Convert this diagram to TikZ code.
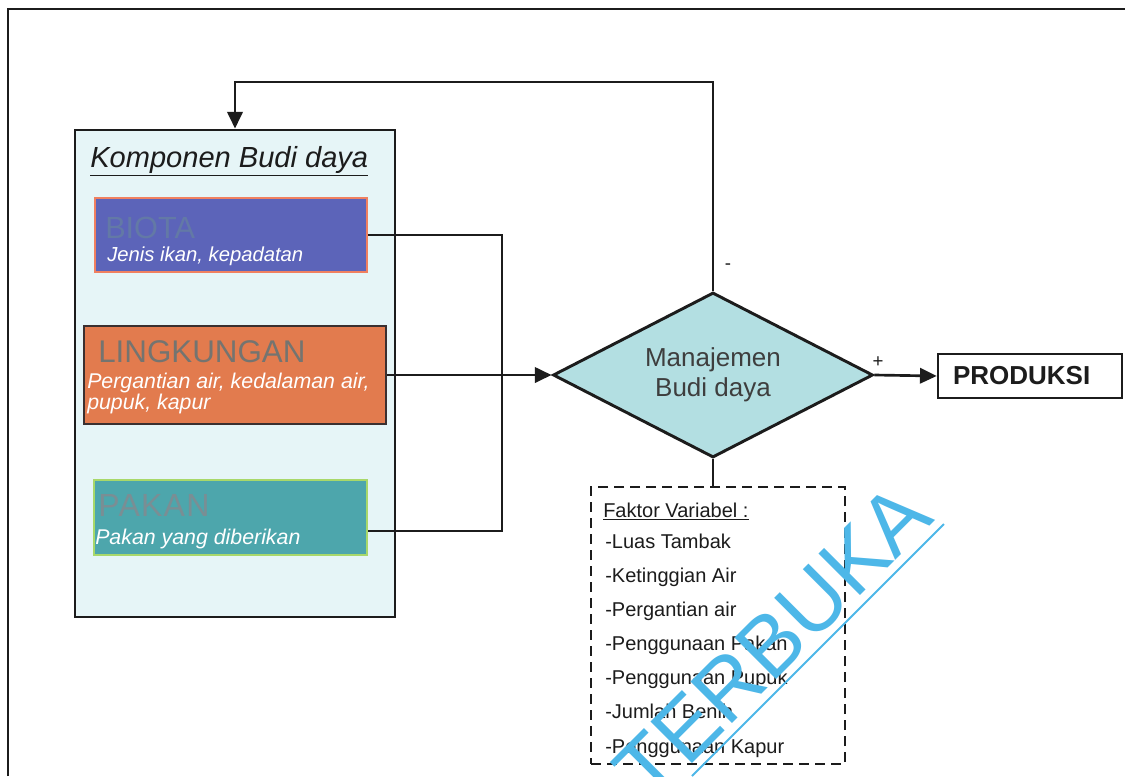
\documentclass[tikz,border=0pt]{standalone}
\usepackage{fontspec}
\setmainfont{Liberation Sans}
\usetikzlibrary{shapes.geometric,arrows.meta,calc}
\def\u{0.75pt}
\newcommand\fsz[2]{\fontsize{#1pt}{#2pt}\selectfont}
\definecolor{komp}{HTML}{E6F5F7}
\definecolor{biotaF}{HTML}{5C64B9}
\definecolor{biotaB}{HTML}{F08060}
\definecolor{biotaT}{HTML}{6379A6}
\definecolor{lingF}{HTML}{E27B4E}
\definecolor{lingB}{HTML}{3A3030}
\definecolor{lingT}{HTML}{747470}
\definecolor{pakF}{HTML}{4DA6AC}
\definecolor{pakB}{HTML}{A8D86A}
\definecolor{pakT}{HTML}{7A8E94}
\definecolor{dia}{HTML}{B3DFE2}
\definecolor{ink}{HTML}{1C1C1C}
\definecolor{wm}{HTML}{4DB7E8}
\tikzset{
  conn/.style={draw=ink, line width=2pt},
  arr/.style={conn, -{Triangle[length=12.5pt,width=11.5pt]}},
  cbox/.style={rectangle, line width=1.8pt, inner sep=0pt},
  lbl/.style={anchor=base west, inner sep=0pt},
}
\begin{document}
\begin{tikzpicture}[x=0.75pt,y=-0.75pt]
\useasboundingbox (0,0) rectangle (1125,776);
\fill[white] (0,0) rectangle (1125,776);
% outer frame
\draw[draw=ink, line width=2.2pt] (8,776) -- (8,9) -- (1125,9);

% Komponen box
\node[cbox, draw=ink, line width=2.2pt, fill=komp, minimum width=320*\u, minimum height=487*\u] (komp) at (235,373.5) {};
\node[lbl, text=ink, font=\fsz{21.8}{26}\itshape] (title) at (90,167) {\underline{Komponen Budi daya}};

% BIOTA
\node[cbox, draw=biotaB, fill=biotaF, minimum width=272*\u, minimum height=74*\u] (biota) at (231,235) {};
\node[lbl, text=biotaT, font=\fsz{23}{27}] (biotaH) at (105,238) {BIOTA};
\node[lbl, text=white, font=\fsz{15.2}{18}\itshape] (biotaS) at (107,261) {Jenis ikan, kepadatan};

% LINGKUNGAN
\node[cbox, draw=lingB, fill=lingF, minimum width=302*\u, minimum height=98*\u] (lingk) at (235,375) {};
\node[lbl, text=lingT, font=\fsz{23.5}{28}] (lingH) at (98,362) {LINGKUNGAN};
\node[lbl, text=white, font=\fsz{16}{19}\itshape] (lingS1) at (87,388) {Pergantian air, kedalaman air,};
\node[lbl, text=white, font=\fsz{16}{19}\itshape] (lingS2) at (87,409) {pupuk, kapur};

% PAKAN
\node[cbox, draw=pakB, fill=pakF, minimum width=273*\u, minimum height=75*\u] (pakan) at (230.5,517.5) {};
\node[lbl, text=pakT, font=\fsz{24}{28}\addfontfeature{LetterSpace=4}] (pakH) at (98,516) {PAKAN};
\node[lbl, text=white, font=\fsz{16}{19}\itshape] (pakS) at (95,544) {Pakan yang diberikan};

% Manajemen diamond
\node[diamond, draw=ink, line width=2.2pt, fill=dia, inner sep=0pt, aspect=1.94,
      minimum width=320*\u, minimum height=165*\u, text=ink!85, align=center,
      font=\fsz{19.5}{22.5}] (mgmt) at (713,375) {Manajemen\\Budi daya};

% PRODUKSI
\node[rectangle, draw=ink, line width=2pt, minimum width=184*\u, minimum height=44*\u,
      inner xsep=15*\u, text width=154*\u, align=left, font=\fsz{19.5}{22}\bfseries, text=ink] (prod) at (1030,376) {PRODUKSI};

% Faktor box
\node[rectangle, draw=ink, line width=2.2pt, dash pattern=on 7.5pt off 4.5pt,
      minimum width=254*\u, minimum height=277*\u] (faktor) at (718,625.5) {};
\node[lbl, text=ink, font=\fsz{15}{18}] (f0) at (603,517) {\underline{Faktor Variabel :}};
\foreach \t [count=\i] in {Luas Tambak,Ketinggian Air,Pergantian air,Penggunaan Pakan,Penggunaan Pupuk,Jumlah Benih,Penggunaan Kapur}{
  \node[lbl, text=ink, font=\fsz{15}{18}] (f\i) at (605,{548+34.17*(\i-1)}) {-\t};
}

% connectors
\coordinate (jt) at (502,235);
\coordinate (jb) at (502,531);
\draw[conn] (biota.east) -- (jt) -- (jb) -- (pakan.east |- jb);
\draw[arr] (lingk.east) -- (mgmt.west);
\draw[arr] (mgmt.north) -- ++(0,-209) -| (komp.north);
\draw[arr] (mgmt.east) -- (prod.west);
\draw[conn] (mgmt.south) -- (mgmt.south |- faktor.north);

\node[font=\fsz{14}{16}, text=ink] (minus) at (728,267) {-};
\node[font=\fsz{14}{16}, text=ink] (plus) at (878,362) {+};

% watermark
\begin{scope}
\clip (0,0) rectangle (1125,776);
\node[anchor=base east, rotate=45, inner sep=0pt, text=wm, font=\fsz{64}{70}] (wmk) at (936,520) {TERBUKA};
\draw[wm, line width=1.5pt] (944,524) -- (692,776);
\end{scope}
\end{tikzpicture}
\end{document}
